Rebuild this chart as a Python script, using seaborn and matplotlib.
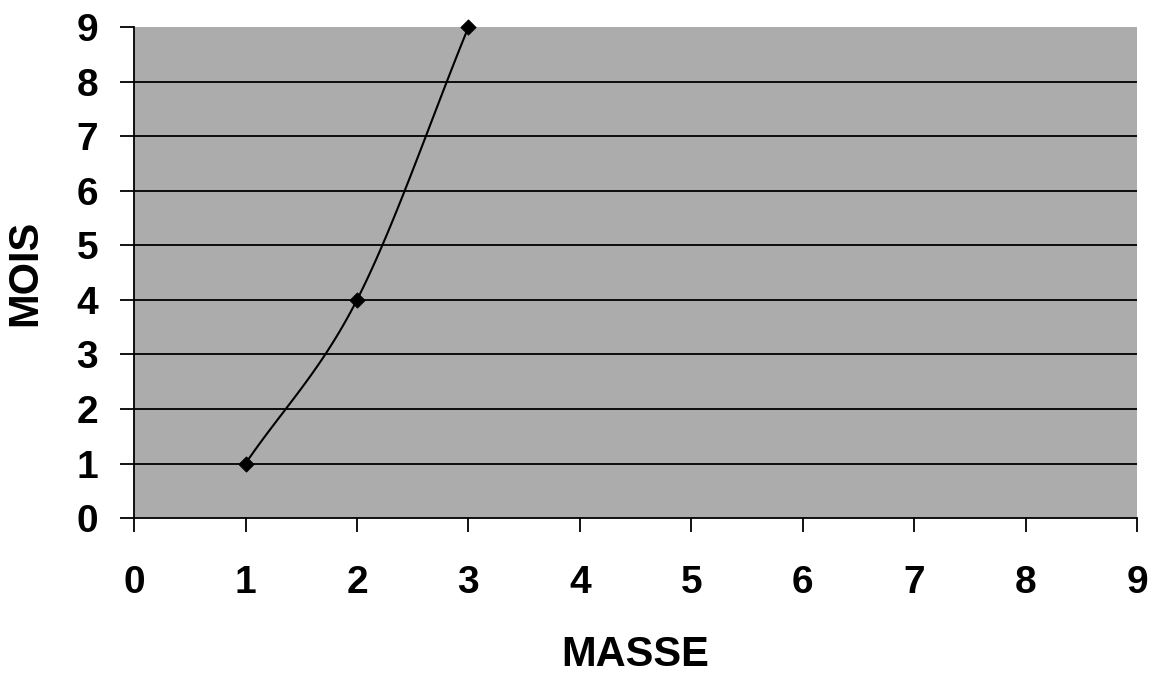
import numpy as np
import matplotlib
matplotlib.use("Agg")
import matplotlib.pyplot as plt
import seaborn as sns

masse = [1, 2, 3]
mois = [1, 4, 9]
xticks = list(range(0, 10))
yticks = list(range(0, 10))

sns.set_theme(style="white")
plt.rcParams['font.family'] = ['Liberation Sans', 'DejaVu Sans']
plt.rcParams['text.color'] = 'black'
plt.rcParams['axes.labelcolor'] = 'black'
plt.rcParams['xtick.color'] = 'black'
plt.rcParams['ytick.color'] = 'black'

fig = plt.figure(figsize=(11.56, 6.79), dpi=100)
ax = fig.add_axes([0.116, 0.237, 0.8676, 0.723])
ax.set_facecolor('#acacac')

# Catmull-Rom smoothing of the data points (like a spreadsheet "smoothed line")
px = np.array(masse, float)
py = np.array(mois, float)
P = np.column_stack([px, py])
P = np.vstack([2 * P[0] - P[1], P, 2 * P[-1] - P[-2]])
xs, ys = [], []
for i in range(1, len(P) - 2):
    p0, p1, p2, p3 = P[i - 1], P[i], P[i + 1], P[i + 2]
    t = np.linspace(0, 1, 40)[:, None]
    c = 0.5 * ((2 * p1) + (-p0 + p2) * t + (2 * p0 - 5 * p1 + 4 * p2 - p3) * t ** 2
               + (-p0 + 3 * p1 - 3 * p2 + p3) * t ** 3)
    xs.extend(c[:, 0]); ys.extend(c[:, 1])
ax.plot(xs, ys, color='black', lw=1.5, zorder=3)
sns.scatterplot(x=masse, y=mois, marker='D', s=60, color='black', ax=ax, zorder=4,
                edgecolor='black', clip_on=False)

ax.set_xlim(0, 9)
ax.set_ylim(0, 9)
ax.set_xticks(xticks)
ax.set_yticks(yticks)
ax.set_xticklabels([str(v) for v in xticks], fontsize=28, fontweight='bold')
ax.set_yticklabels([str(v) for v in yticks], fontsize=28, fontweight='bold')
for y in yticks[1:-1]:
    ax.axhline(y, color='black', lw=1.3, zorder=2)
ax.tick_params(axis='x', direction='out', length=10, width=1.3, color='black', pad=24, bottom=True)
ax.tick_params(axis='y', direction='out', length=10, width=1.3, color='black', pad=16, left=True)

for s in ['top', 'right']:
    ax.spines[s].set_visible(False)
for s in ['left', 'bottom']:
    ax.spines[s].set_color('black')
    ax.spines[s].set_linewidth(1.3)

ax.set_xlabel('MASSE', fontsize=30, fontweight='bold', labelpad=24)
ax.set_ylabel('MOIS', fontsize=30, fontweight='bold', labelpad=22)

fig.savefig('out.png', dpi=100)
